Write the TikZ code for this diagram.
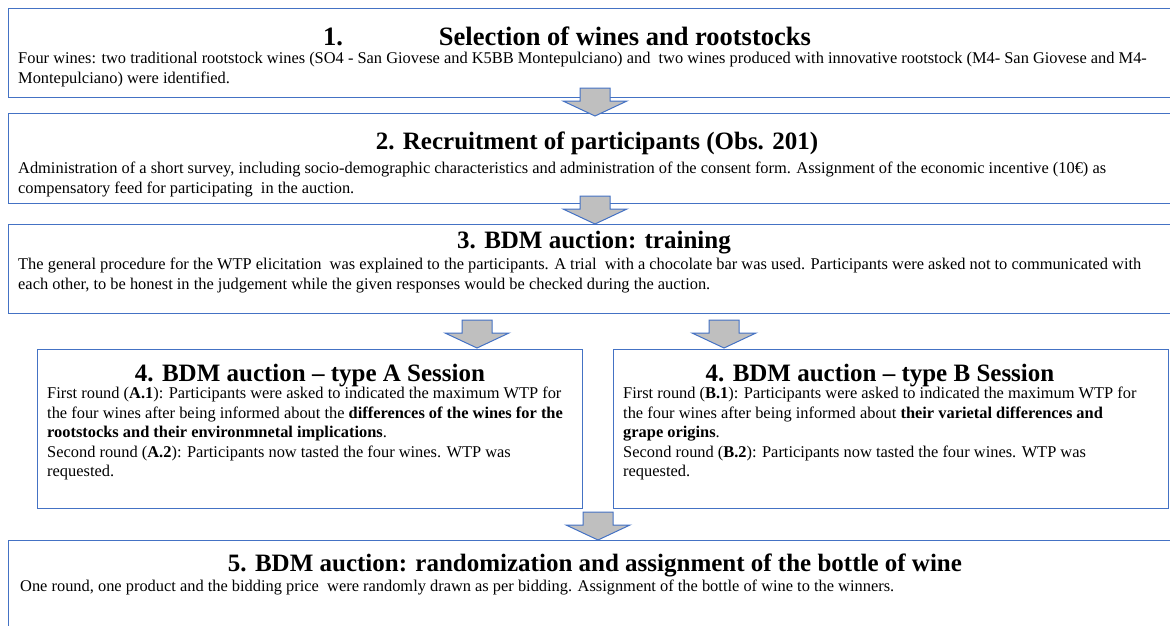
\documentclass[tikz,border=0pt]{standalone}
\usepackage{fontspec}
\setmainfont{Liberation Serif}
\usetikzlibrary{positioning}
\definecolor{boxblue}{RGB}{68,114,196}
\definecolor{arrowgray}{RGB}{191,191,191}
\tikzset{
  stage/.style={draw=boxblue, line width=1.2pt, rectangle, anchor=north west, inner sep=0pt},
  heading/.style={font=\fontsize{25}{27}\selectfont\bfseries, inner sep=0pt, anchor=base},
  body/.style={font=\fontsize{16.4}{19.5}\selectfont, inner sep=0pt, anchor=north west, align=left},
  pics/blockdown/.style={code={
    \draw[draw=boxblue, fill=arrowgray, line width=1pt, line join=miter]
      (-15,-28) -- (15,-28) -- (15,-15) -- (32,-15) -- (0,0) -- (-32,-15) -- (-15,-15) -- cycle;}}
}
\begin{document}
\begin{tikzpicture}[x=1pt, y=-1pt]
  \useasboundingbox (0,0) rectangle (1170,626);
  % boxes
  \node[stage, minimum width=1172pt, minimum height=89pt] (sel) at (8,8) {};
  \node[stage, minimum width=1172pt, minimum height=90pt] (recruit) at (8,113) {};
  \node[stage, minimum width=1172pt, minimum height=89pt] (training) at (8,224) {};
  \node[stage, minimum width=545pt, minimum height=159pt] (sessA) at (37,349) {};
  \node[stage, minimum width=555pt, minimum height=159pt] (sessB) at (613,349) {};
  \node[stage, minimum width=1172pt, minimum height=100pt] (assign) at (8,540) {};
  % texts
  \node[heading, font=\fontsize{26.5}{28}\selectfont\bfseries] (selT) at (567,46) {1.\hspace{96pt}Selection of wines and rootstocks};
  \node[body] (selB) at (18,52) {Four wines: two traditional rootstock wines (SO4 - San Giovese and K5BB Montepulciano) and\ \ two wines produced with innovative rootstock (M4- San Giovese and M4-\\Montepulciano) were identified.};
  \node[heading] (recruitT) at (597,149) {2. Recruitment of participants (Obs. 201)};
  \node[body] (recruitB) at (18,162) {Administration of a short survey, including socio-demographic characteristics and administration of the consent form. Assignment of the economic incentive (10€) as\\compensatory feed for participating\ \ in the auction.};
  \node[heading] (trainingT) at (594,248) {3. BDM auction: training};
  \node[body] (trainingB) at (18,258) {The general procedure for the WTP elicitation\ \ was explained to the participants. A trial\ \ with a chocolate bar was used. Participants were asked not to communicated with\\each other, to be honest in the judgement while the given responses would be checked during the auction.};
  \node[heading] (sessAT) at (310,381) {4. BDM auction -- type A Session};
  \node[body] (sessAB) at (47,387) {First round (\textbf{A.1}): Participants were asked to indicated the maximum WTP for\\the four wines after being informed about the \textbf{differences of the wines for the}\\\textbf{rootstocks and their environmnetal implications}.\\Second round (\textbf{A.2}): Participants now tasted the four wines. WTP was\\requested.};
  \node[heading] (sessBT) at (880,381) {4. BDM auction -- type B Session};
  \node[body] (sessBB) at (623,387) {First round (\textbf{B.1}): Participants were asked to indicated the maximum WTP for\\the four wines after being informed about \textbf{their varietal differences and}\\\textbf{grape origins}.\\Second round (\textbf{B.2}): Participants now tasted the four wines. WTP was\\requested.};
  \node[heading] (assignT) at (595,571) {5. BDM auction: randomization and assignment of the bottle of wine};
  \node[body] (assignB) at (20,580) {One round, one product and the bidding price\ \ were randomly drawn as per bidding. Assignment of the bottle of wine to the winners.};
  % arrows
  \pic at (595,116) {blockdown};
  \pic at (595,224) {blockdown};
  \pic at (477,348) {blockdown};
  \pic at (724,348) {blockdown};
  \pic at (598,540) {blockdown};
\end{tikzpicture}
\end{document}
